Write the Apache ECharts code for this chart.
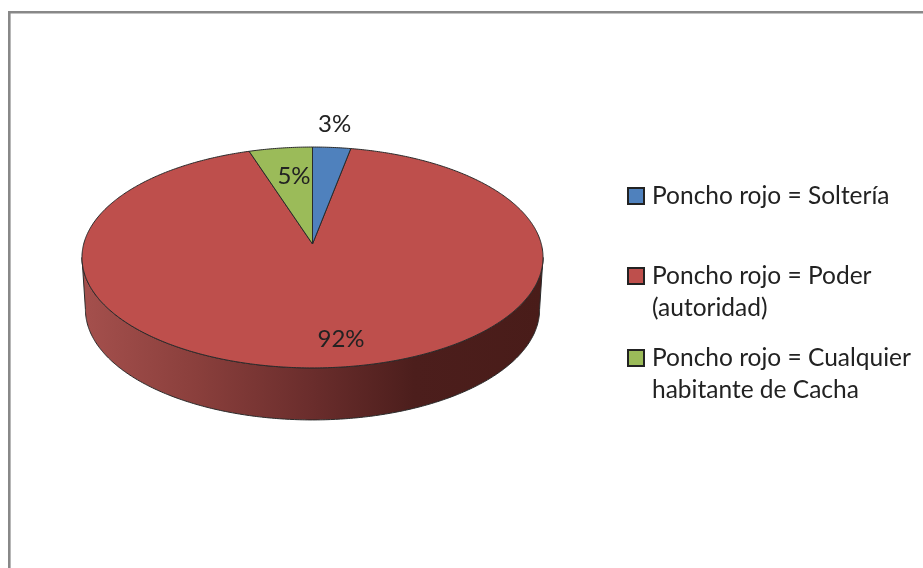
<!DOCTYPE html>
<html><head><meta charset="utf-8">
<style>html,body{margin:0;padding:0;background:#fff}#c{width:923px;height:568px}</style>
<script src="https://cdn.jsdelivr.net/npm/echarts@6/dist/echarts.min.js"></script>
</head><body><div id="c"></div>
<script>
const categories = ['Poncho rojo = Soltería', 'Poncho rojo = Poder\n(autoridad)', 'Poncho rojo = Cualquier\nhabitante de Cacha'];
const values = [3, 92, 5];
const labels = ['3%', '92%', '5%'];
const colors = ['#4F81BD', '#BE4F4C', '#9BBB59'];

// disc geometry (simple perspective projection of a tilted circle)
const G = {cx: 312.5, cy: 244, A: 228.8, B: 108.8, k: 0.122, depth: 52, baseScale: 0.985};
const labelPlace = [{r: 1.3, dx: -2, dy: 2}, {r: 0.79, dx: 16, dy: 0}, {r: 0.68, dx: 4, dy: 0}];
const legendTops = [180, 228, 310];
const FONT = 'Lato, Carlito, "Open Sans", sans-serif';

function project(theta, r, sx, dy) {
  const X = r * Math.sin(theta), Y = r * Math.cos(theta), w = 1 + G.k * Y;
  return [G.cx + (sx || 1) * G.A * X / w, G.cy - G.B * Y / w + (dy || 0)];
}
const total = values.reduce((a, b) => a + b, 0);
function angles(i) {
  let s = 0;
  for (let j = 0; j < i; j++) s += values[j];
  return [s / total * 2 * Math.PI, (s + values[i]) / total * 2 * Math.PI];
}
function rimPoints(a, b, sx, dy) {
  const n = Math.max(4, Math.ceil((b - a) / 0.01)), pts = [];
  for (let t = 0; t <= n; t++) pts.push(project(a + (b - a) * t / n, 1, sx, dy));
  return pts;
}
function wall() {
  const a = Math.acos(-G.k), b = 2 * Math.PI - a;
  const top = rimPoints(a, b), base = rimPoints(a, b, G.baseScale, G.depth).reverse();
  return {
    type: 'polygon', z2: 1,
    shape: {points: top.concat(base)},
    style: {
      fill: new echarts.graphic.LinearGradient(0, 0, 1, 0, [
        {offset: 0, color: '#A5504D'}, {offset: 0.25, color: '#8A3F3C'},
        {offset: 0.5, color: '#6A2D2C'}, {offset: 0.72, color: '#4C1E1C'}, {offset: 1, color: '#491C19'}
      ]),
      stroke: '#2a2a2a', lineWidth: 1
    }
  };
}
function renderSlice(i) {
  const [a, b] = angles(i);
  const children = [];
  if (values[i] === Math.max(...values)) children.push(wall());
  children.push({
    type: 'polygon', z2: 2,
    shape: {points: [[G.cx, G.cy]].concat(rimPoints(a, b))},
    style: {fill: colors[i], stroke: '#2a2a2a', lineWidth: 1, lineJoin: 'round'}
  });
  const p = labelPlace[i], m = project((a + b) / 2, p.r);
  children.push({
    type: 'text', z2: 10,
    style: {x: m[0] + p.dx, y: m[1] + p.dy, text: labels[i], fill: '#222', font: '24px ' + FONT, align: 'center', verticalAlign: 'middle'}
  });
  return {type: 'group', children};
}

// the big slice (with the side wall) paints first, the thin slices on top
const series = categories.map((name, i) => ({
  type: 'custom', name, coordinateSystem: 'none', silent: true, animation: false,
  z: values[i] === Math.max(...values) ? 2 : 3,
  data: [[values[i]]],
  itemStyle: {color: colors[i]},
  renderItem: () => renderSlice(i)
}));

const legend = categories.map((name, i) => ({
  show: true, selectedMode: false, orient: 'vertical', icon: 'rect',
  left: 627, top: legendTops[i], itemWidth: 16, itemHeight: 16, padding: 0,
  data: [name],
  // a blank first line keeps the marker beside the first line of two-line names
  formatter: n => n.indexOf('\n') >= 0 ? ' \n' + n : n,
  itemStyle: {borderColor: '#222', borderWidth: 2},
  textStyle: {fontFamily: FONT, fontSize: 24.5, color: '#222', lineHeight: 32, padding: [0, 0, 0, 3]}
}));

const chart = echarts.init(document.getElementById('c'), null, {renderer: 'canvas'});
chart.setOption({
  backgroundColor: '#fff', animation: false, tooltip: {show: false},
  legend, series,
  graphic: [{
    type: 'rect', silent: true, z: 0,
    shape: {x: 9.3, y: 12.3, width: 1200, height: 1200},
    style: {fill: 'transparent', stroke: '#888888', lineWidth: 2.6}
  }]
});
</script></body></html>
